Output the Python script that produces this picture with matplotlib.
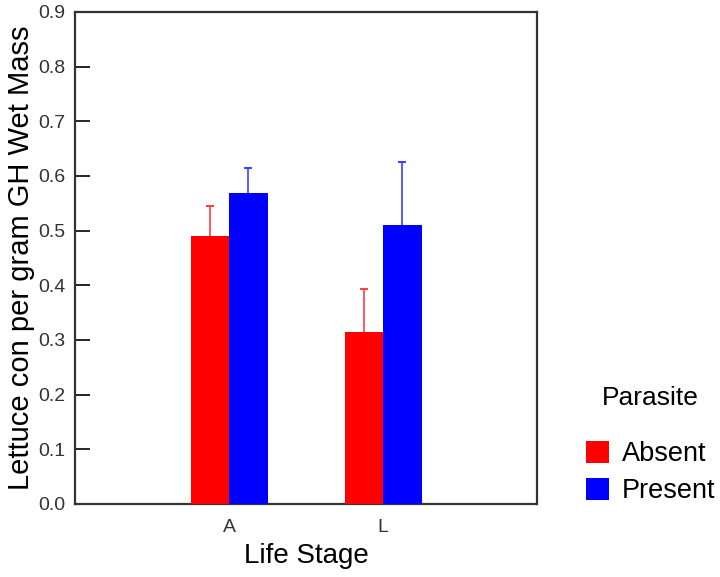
import numpy as np
import matplotlib
matplotlib.use('Agg')
import matplotlib.pyplot as plt

plt.rcParams['font.family'] = ['Liberation Sans', 'DejaVu Sans']

stages = ['A', 'L']
groups = ['Absent', 'Present']
means = {'Absent': [0.491, 0.315], 'Present': [0.568, 0.510]}
errs = {'Absent': [0.055, 0.078], 'Present': [0.047, 0.116]}
colors = {'Absent': '#ff0000', 'Present': '#0000ff'}
err_colors = {'Absent': '#ff4040', 'Present': '#4040ff'}

fig = plt.figure(figsize=(7.2, 5.77), dpi=100)
ax = fig.add_axes([75 / 720, 1 - 504 / 577, 462 / 720, 492 / 577])

x = np.arange(len(stages))
w = 0.25
for i, g in enumerate(groups):
    pos = x + (i - 0.5) * w
    ax.bar(pos, means[g], width=w, color=colors[g], label=g, zorder=3)
    # error bars behind the bars so only the upper half shows
    ax.errorbar(pos, means[g], yerr=errs[g],
                fmt='none', ecolor=err_colors[g], elinewidth=1.2,
                capsize=3, capthick=1.5, zorder=2)

ax.set_xlim(-1, 2)
ax.set_ylim(0, 0.9)
ax.set_yticks(np.arange(0, 0.91, 0.1))
ax.set_yticklabels(['%.1f' % v for v in np.arange(0, 0.91, 0.1)])
ax.set_xticks(x)
ax.set_xticklabels(stages)
ax.tick_params(axis='y', direction='in', length=11, width=1.2, labelsize=14,
               labelcolor='#333333', pad=7)
ax.tick_params(axis='x', length=0, labelsize=14, labelcolor='#333333', pad=11)
for s in ax.spines.values():
    s.set_linewidth(1.6)
    s.set_color('#333333')

ax.set_xlabel('Life Stage', fontsize=20, labelpad=5)
ax.set_ylabel('Lettuce con per gram GH Wet Mass', fontsize=21, labelpad=2)

leg = fig.legend(loc='upper left', bbox_to_anchor=(562 / 720, 1 - 362 / 577),
                 title='Parasite', fontsize=19.5, title_fontsize=19,
                 frameon=False, handlelength=0.85, handleheight=0.85,
                 handletextpad=0.45, labelspacing=0.4)
leg._legend_box.sep = 22

fig.savefig('out.png', dpi=100)
